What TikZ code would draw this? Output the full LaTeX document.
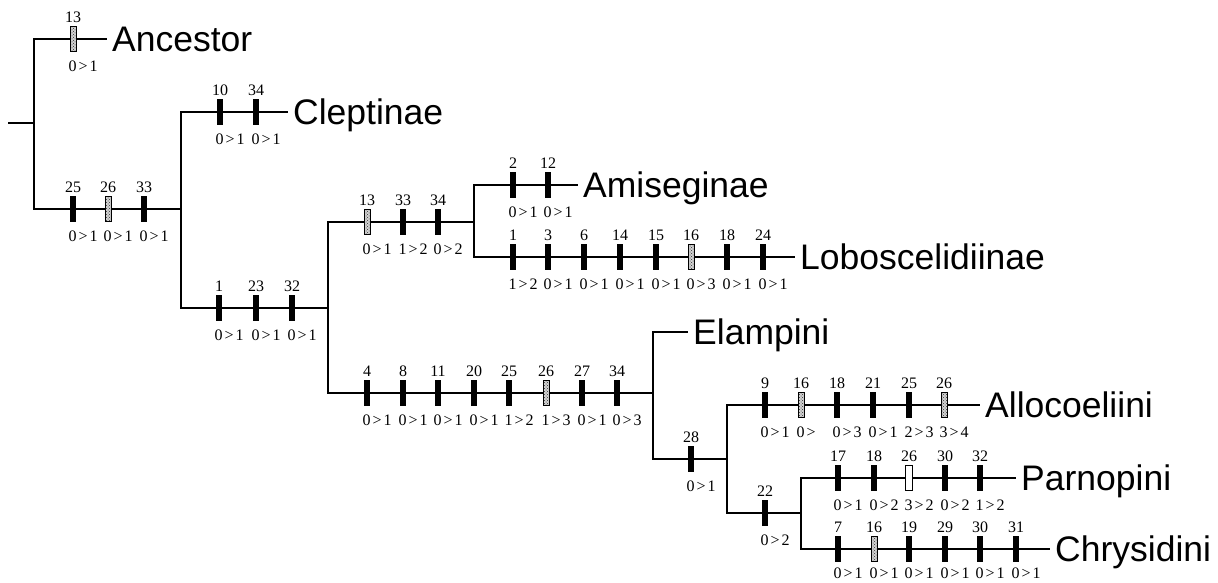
\documentclass[tikz,border=0pt]{standalone}
\usepackage{fontspec}
\setmainfont{Liberation Serif}
\newfontfamily\taxfont{Liberation Sans}
\usetikzlibrary{patterns}
\newcommand{\ogt}{\kern2pt>\kern2pt}
\newcommand{\charmarkat}[7]{%
  \node[#4] (#1) at (#2,#3) {};
  \node[toplab] (#1t) at (#2,#3-22) {#5};
  \node[botlab] (#1b) at (#2-4.5,#3+#7) {#6};}
\newcommand{\charmark}[6]{\charmarkat{#1}{#2}{#3}{#4}{#5}{#6}{27}}
\begin{document}
\begin{tikzpicture}[x=1pt,y=-1pt,
  branch/.style={line width=2.2pt,line join=miter},
  blackbar/.style={rectangle,fill=black,minimum width=6.8pt,minimum height=26pt,inner sep=0pt,outer sep=0pt},
  dotbar/.style={rectangle,draw=black,line width=0.8pt,preaction={fill=gray!35},pattern=crosshatch dots,pattern color=black!80,minimum width=6pt,minimum height=25pt,inner sep=0pt},
  openbar/.style={rectangle,draw=black,fill=white,line width=1pt,minimum width=6.5pt,minimum height=25pt,inner sep=0pt},
  toplab/.style={font=\fontsize{16}{16}\selectfont,inner sep=0pt,text height=10.5pt,text depth=0pt},
  botlab/.style={toplab,anchor=west},
  taxon/.style={font=\taxfont\fontsize{35.5}{36}\selectfont,anchor=west,inner xsep=5pt,inner ysep=0pt,text height=25.4pt,text depth=0pt}]
\useasboundingbox (0,0) rectangle (1218,582);
% taxa
\node[taxon] (anc) at (107,39) {Ancestor};
\node[taxon] (cle) at (288,112) {Cleptinae};
\node[taxon] (ami) at (578,185) {Amiseginae};
\node[taxon] (lob) at (795,257) {Loboscelidiinae};
\node[taxon] (ela) at (688,332) {Elampini};
\node[taxon] (all) at (980,405) {Allocoeliini};
\node[taxon] (par) at (1016,478) {Parnopini};
\node[taxon] (chr) at (1050,549) {Chrysidini};
% internal nodes
\coordinate (r) at (8,123);
\coordinate (n0) at (34,123);
\coordinate (n1) at (181,209);
\coordinate (n2) at (328,308);
\coordinate (n3) at (474,222);
\coordinate (n4) at (653,393);
\coordinate (n5) at (727,459);
\coordinate (n6) at (801,513);
% branches
\draw[branch] (r) -- (n0);
\draw[branch] (n0) |- (anc.west);
\draw[branch] (n0) |- (n1);
\draw[branch] (n1) |- (cle.west);
\draw[branch] (n1) |- (n2);
\draw[branch] (n2) |- (n3);
\draw[branch] (n2) |- (n4);
\draw[branch] (n3) |- (ami.west);
\draw[branch] (n3) |- (lob.west);
\draw[branch] (n4) |- (ela.west);
\draw[branch] (n4) |- (n5);
\draw[branch] (n5) |- (all.west);
\draw[branch] (n5) |- (n6);
\draw[branch] (n6) |- (par.west);
\draw[branch] (n6) |- (chr.west);
% characters
\charmark{a13}{73}{39}{dotbar}{13}{0\ogt1}
\charmark{b25}{73}{209}{blackbar}{25}{0\ogt1}
\charmark{b26}{108}{209}{dotbar}{26}{0\ogt1}
\charmark{b33}{144}{209}{blackbar}{33}{0\ogt1}
\charmark{c10}{220}{112}{blackbar}{10}{0\ogt1}
\charmark{c34}{256}{112}{blackbar}{34}{0\ogt1}
\charmark{d1}{219}{308}{blackbar}{1}{0\ogt1}
\charmark{d23}{256}{308}{blackbar}{23}{0\ogt1}
\charmark{d32}{292}{308}{blackbar}{32}{0\ogt1}
\charmark{e13}{367}{222}{dotbar}{13}{0\ogt1}
\charmark{e33}{403}{222}{blackbar}{33}{1\ogt2}
\charmark{e34}{438}{222}{blackbar}{34}{0\ogt2}
\charmark{f2}{513}{185}{blackbar}{2}{0\ogt1}
\charmark{f12}{548}{185}{blackbar}{12}{0\ogt1}
\charmark{g1}{513}{257}{blackbar}{1}{1\ogt2}
\charmark{g3}{548}{257}{blackbar}{3}{0\ogt1}
\charmark{g6}{584}{257}{blackbar}{6}{0\ogt1}
\charmark{g14}{620}{257}{blackbar}{14}{0\ogt1}
\charmark{g15}{656}{257}{blackbar}{15}{0\ogt1}
\charmark{g16}{691}{257}{dotbar}{16}{0\ogt3}
\charmark{g18}{727}{257}{blackbar}{18}{0\ogt1}
\charmark{g24}{763}{257}{blackbar}{24}{0\ogt1}
\charmark{h4}{367}{393}{blackbar}{4}{0\ogt1}
\charmark{h8}{403}{393}{blackbar}{8}{0\ogt1}
\charmark{h11}{438}{393}{blackbar}{11}{0\ogt1}
\charmark{h20}{474}{393}{blackbar}{20}{0\ogt1}
\charmark{h25}{509}{393}{blackbar}{25}{1\ogt2}
\charmark{h26}{546}{393}{dotbar}{26}{1\ogt3}
\charmark{h27}{582}{393}{blackbar}{27}{0\ogt1}
\charmark{h34}{617}{393}{blackbar}{34}{0\ogt3}
\charmark{i28}{691}{459}{blackbar}{28}{0\ogt1}
\charmark{j9}{765}{405}{blackbar}{9}{0\ogt1}
\charmark{j16}{801}{405}{dotbar}{16}{0\ogt}
\charmark{j18}{837}{405}{blackbar}{18}{0\ogt3}
\charmark{j21}{873}{405}{blackbar}{21}{0\ogt1}
\charmark{j25}{909}{405}{blackbar}{25}{2\ogt3}
\charmark{j26}{944}{405}{dotbar}{26}{3\ogt4}
\charmark{k22}{765}{513}{blackbar}{22}{0\ogt2}
\charmark{l17}{838}{478}{blackbar}{17}{0\ogt1}
\charmark{l18}{874}{478}{blackbar}{18}{0\ogt2}
\charmark{l26}{909}{478}{openbar}{26}{3\ogt2}
\charmark{l30}{945}{478}{blackbar}{30}{0\ogt2}
\charmark{l32}{980}{478}{blackbar}{32}{1\ogt2}
\charmarkat{m7}{838}{549}{blackbar}{7}{0\ogt1}{24}
\charmarkat{m16}{874}{549}{dotbar}{16}{0\ogt1}{24}
\charmarkat{m19}{909}{549}{blackbar}{19}{0\ogt1}{24}
\charmarkat{m29}{945}{549}{blackbar}{29}{0\ogt1}{24}
\charmarkat{m30}{980}{549}{blackbar}{30}{0\ogt1}{24}
\charmarkat{m31}{1016}{549}{blackbar}{31}{0\ogt1}{24}
\end{tikzpicture}
\end{document}
